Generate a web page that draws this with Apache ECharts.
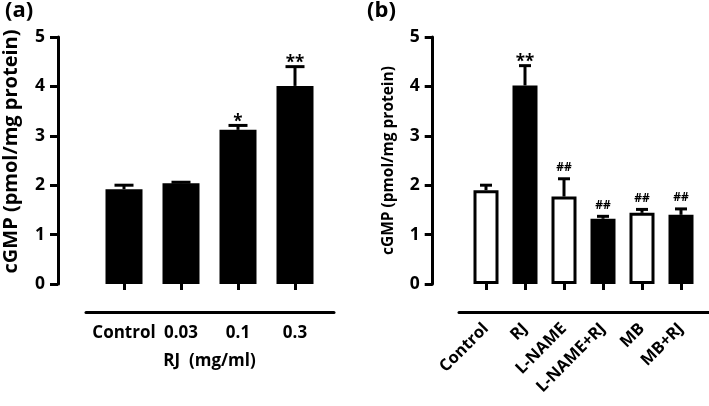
<!DOCTYPE html>
<html>
<head>
<meta charset="utf-8">
<script src="https://cdn.jsdelivr.net/npm/echarts@6/dist/echarts.min.js"></script>
<style>html,body{margin:0;padding:0;background:#fff;}#c{width:709px;height:406px;}</style>
</head>
<body>
<div id="c"></div>
<script>
const catsA = ['Control', '0.03', '0.1', '0.3'];
const meanA = [1.92, 2.04, 3.12, 4.01];
const semA = [0.08, 0.02, 0.09, 0.39];
const markA = ['', '', '*', '**'];

const catsB = ['Control', 'RJ', 'L-NAME', 'L-NAME+RJ', 'MB', 'MB+RJ'];
const meanB = [1.90, 4.02, 1.77, 1.32, 1.44, 1.40];
const semB = [0.10, 0.40, 0.36, 0.05, 0.07, 0.12];
const markB = ['', '**', '##', '##', '##', '##'];
const fillB = ['#ffffff', '#000000', '#ffffff', '#000000', '#ffffff', '#000000'];

const yMin = 0, yMax = 5, yStep = 1;
const FONT = '"Open Sans", Lato, sans-serif';

const chart = echarts.init(document.getElementById('c'), null, {renderer: 'canvas'});

function errRender(marks, capHalf) {
  return function (params, api) {
    const i = api.value(0), m = api.value(1), s = api.value(2);
    const base = api.coord([i, m]);
    const top = api.coord([i, m + s]);
    const mk = marks[params.dataIndex];
    const isHash = mk.indexOf('#') >= 0;
    const font = isHash ? 'bold 12px ' + FONT : 'bold 17px ' + FONT;
    const gap = isHash ? 11 : 3;
    return {
      type: 'group',
      children: [
        {type: 'line', shape: {x1: base[0], y1: base[1], x2: top[0], y2: top[1]}, style: {stroke: '#000', lineWidth: 3}},
        {type: 'line', shape: {x1: top[0] - capHalf, y1: top[1], x2: top[0] + capHalf, y2: top[1]}, style: {stroke: '#000', lineWidth: 3}},
        {type: 'text', x: top[0], y: top[1] - gap, style: {text: mk, textAlign: 'center', textVerticalAlign: 'middle', font: font, fill: '#000'}}
      ]
    };
  };
}

const yAxisCommon = {
  type: 'value', min: yMin, max: yMax, interval: yStep,
  axisLine: {show: true, lineStyle: {color: '#000', width: 3}},
  axisTick: {show: true, length: 8, lineStyle: {color: '#000', width: 3}},
  splitLine: {show: false},
  nameLocation: 'middle', nameRotate: 90,
  axisLabel: {color: '#000', fontFamily: FONT, fontWeight: 'bold', fontSize: 17.5, margin: 13}
};

const option = {
  backgroundColor: '#fff',
  animation: false,
  title: [
    {text: '(a)', left: 0, top: -5, textStyle: {fontFamily: FONT, fontWeight: 'bold', fontSize: 22, color: '#000'}},
    {text: '(b)', left: 362, top: -5, textStyle: {fontFamily: FONT, fontWeight: 'bold', fontSize: 22, color: '#000'}}
  ],
  grid: [
    {left: 95.5, width: 228, top: 37, height: 247},
    {left: 86, width: 248, top: 300, height: 12},
    {left: 466.5, width: 234, top: 37, height: 247},
    {left: 459, width: 250, top: 300, height: 12}
  ],
  xAxis: [
    {type: 'category', gridIndex: 0, data: catsA, offset: 28,
     axisLine: {show: false},
     axisTick: {show: true, alignWithLabel: true, length: 6, lineStyle: {color: '#000', width: 3}},
     axisLabel: {color: '#000', fontFamily: FONT, fontWeight: 'bold', fontSize: 17, margin: 13, interval: 0},
     name: 'RJ  (mg/ml)', nameLocation: 'middle', nameGap: 41,
     nameTextStyle: {color: '#000', fontFamily: FONT, fontWeight: 'bold', fontSize: 17}},
    {type: 'value', gridIndex: 1, min: 0, max: 1, axisLine: {show: true, lineStyle: {color: '#000', width: 3}},
     axisTick: {show: false}, axisLabel: {show: false}, splitLine: {show: false}},
    {type: 'category', gridIndex: 2, data: catsB, offset: 28,
     axisLine: {show: false},
     axisTick: {show: true, alignWithLabel: true, length: 6, lineStyle: {color: '#000', width: 3}},
     axisLabel: {color: '#000', fontFamily: FONT, fontWeight: 'bold', fontSize: 16.5, margin: 14, rotate: 45, interval: 0,
                 padding: [14, 0, 0, 0]}},
    {type: 'value', gridIndex: 3, min: 0, max: 1, axisLine: {show: true, lineStyle: {color: '#000', width: 3}},
     axisTick: {show: false}, axisLabel: {show: false}, splitLine: {show: false}}
  ],
  yAxis: [
    Object.assign({}, yAxisCommon, {gridIndex: 0, offset: 37.5, name: 'cGMP (pmol/mg protein)', nameGap: 37,
      nameTextStyle: {color: '#000', fontFamily: FONT, fontWeight: 'bold', fontSize: 20, padding: [0, 0, 0, 18]}}),
    {type: 'value', gridIndex: 1, show: false},
    Object.assign({}, yAxisCommon, {gridIndex: 2, offset: 33.8, name: 'cGMP (pmol/mg protein)', nameGap: 36,
      nameTextStyle: {color: '#000', fontFamily: FONT, fontWeight: 'bold', fontSize: 15.5}}),
    {type: 'value', gridIndex: 3, show: false}
  ],
  series: [
    {type: 'bar', xAxisIndex: 0, yAxisIndex: 0, barWidth: 37, data: meanA,
     itemStyle: {color: '#000', borderColor: '#000', borderWidth: 3}},
    {type: 'custom', xAxisIndex: 0, yAxisIndex: 0, z: 5,
     data: catsA.map((c, i) => [i, meanA[i], semA[i]]),
     renderItem: errRender(markA, 9.5)},
    {type: 'bar', xAxisIndex: 2, yAxisIndex: 2, barWidth: 25,
     data: meanB.map((v, i) => ({value: v, itemStyle: {color: fillB[i]}})),
     itemStyle: {borderColor: '#000', borderWidth: 3}},
    {type: 'custom', xAxisIndex: 2, yAxisIndex: 2, z: 5,
     data: catsB.map((c, i) => [i, meanB[i], semB[i]]),
     renderItem: errRender(markB, 6)}
  ]
};
chart.setOption(option);
</script>
</body>
</html>
